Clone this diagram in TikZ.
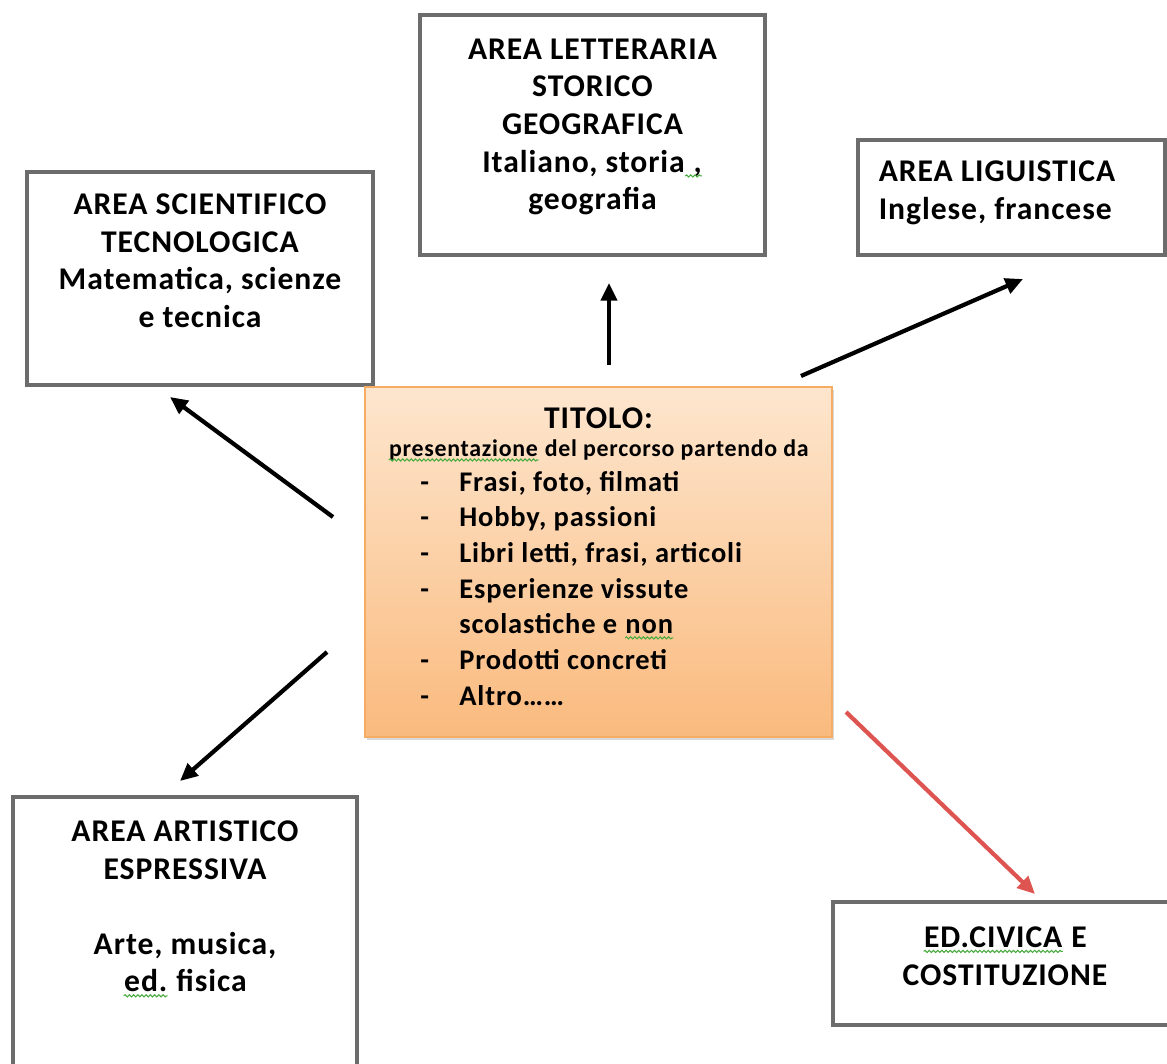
\documentclass[tikz,border=0pt]{standalone}
\usepackage{fontspec}
\setmainfont{Carlito}[LetterSpace=3]
\usetikzlibrary{positioning,shadows,arrows.meta,decorations.pathmorphing}
\definecolor{myframe}{RGB}{108,108,108}
\definecolor{mypeach}{RGB}{253,230,206}
\definecolor{myorange}{RGB}{250,186,126}
\definecolor{myedge}{RGB}{246,172,98}
\definecolor{myred}{RGB}{221,84,80}
\definecolor{mywave}{RGB}{70,170,60}
% spell-check squiggle under a word
\newcommand{\wavy}[1]{\tikz[baseline=(w.base)]{\node[inner sep=0pt] (w) {#1};
  \draw[mywave,line width=0.6pt,decorate,decoration={snake,amplitude=0.6pt,segment length=2.4pt}]
    ([yshift=-2.2pt]w.base west) -- ([yshift=-2.2pt]w.base east);}}

\begin{document}
\begin{tikzpicture}[x=0.02cm,y=-0.02cm,
  areabox/.style={draw=myframe,line width=1.8pt,fill=white,inner sep=0pt},
  areatext/.style={font=\bfseries\fontsize{18}{21.4}\selectfont,align=center,inner sep=0pt},
  ctrbox/.style={draw=myedge,line width=0.8pt,top color=mypeach,bottom color=myorange,
    drop shadow={opacity=0.3,shadow xshift=1.2pt,shadow yshift=-1.5pt}},
  link/.style={-{Triangle[length=10pt,width=9pt]},line width=2.4pt}
]
\clip (0,0) rectangle (1167,1063);

% the area boxes
\node[areabox,minimum width=6.92cm,minimum height=4.26cm] (sci) at (200,278.5) {};
\node[areabox,minimum width=6.90cm,minimum height=4.80cm] (let) at (592.5,135) {};
\node[areabox,minimum width=6.14cm,minimum height=2.30cm] (lin) at (1011.5,197.5) {};
\node[areabox,minimum width=6.88cm,minimum height=5.86cm] (art) at (185,943.5) {};
\node[areabox,minimum width=6.88cm,minimum height=2.46cm] (civ) at (1005,963.5) {};

\node[areatext,below=0.46cm of sci.north] (scitext)
  {AREA SCIENTIFICO\\TECNOLOGICA\\Matematica, scienze\\e tecnica};
\node[areatext,below=0.50cm of let.north] (lettext)
  {AREA LETTERARIA\\STORICO\\GEOGRAFICA\\Italiano, storia\wavy{\ ,}\\geografia};
\node[areatext,align=left,below right=0.44cm and 0.44cm of lin.north west] (lintext)
  {AREA LIGUISTICA\\Inglese, francese};
\node[areatext,below=0.50cm of art.north] (arttext)
  {AREA ARTISTICO\\ESPRESSIVA\\[21.4pt]Arte, musica,\\\wavy{ed.} fisica};
\node[areatext,below=0.52cm of civ.north] (civtext)
  {\wavy{ED.CIVICA} E\\COSTITUZIONE};

% the central box
\node[ctrbox,minimum width=9.34cm,minimum height=7.0cm] (ctr) at (598.5,562) {};
\node[areatext,below=0.42cm of ctr.north] (title) {TITOLO:};
\node[areatext,font=\bfseries\fontsize{13.6}{15}\selectfont,below=0.2cm of title] (sub)
  {\wavy{presentazione} del percorso partendo da};
\node[areatext,align=left,anchor=north west,font=\bfseries\fontsize{16.2}{20.3}\selectfont] (items) at (420,466)
  {\begin{tabular}{@{}p{0.78cm}@{}l@{}}
  - & Frasi, foto, filmati\\
  - & Hobby, passioni\\
  - & Libri letti, frasi, articoli\\
  - & Esperienze vissute\\
    & scolastiche e \wavy{non}\\
  - & Prodotti concreti\\
  - & Altro……
  \end{tabular}};

% the arrows
\coordinate (up0) at (609,365);  \coordinate (up1) at (609,283);
\coordinate (ne0) at (801,376);  \coordinate (ne1) at (1023,279);
\coordinate (nw0) at (333,517);  \coordinate (nw1) at (170,397);
\coordinate (sw0) at (327,652);  \coordinate (sw1) at (180,781);
\coordinate (se0) at (846,712);  \coordinate (se1) at (1035,894);

\draw[link] (up0) -- (up1);
\draw[link] (ne0) -- (ne1);
\draw[link] (nw0) -- (nw1);
\draw[link] (sw0) -- (sw1);
\draw[link,myred] (se0) -- (se1);
\end{tikzpicture}
\end{document}
